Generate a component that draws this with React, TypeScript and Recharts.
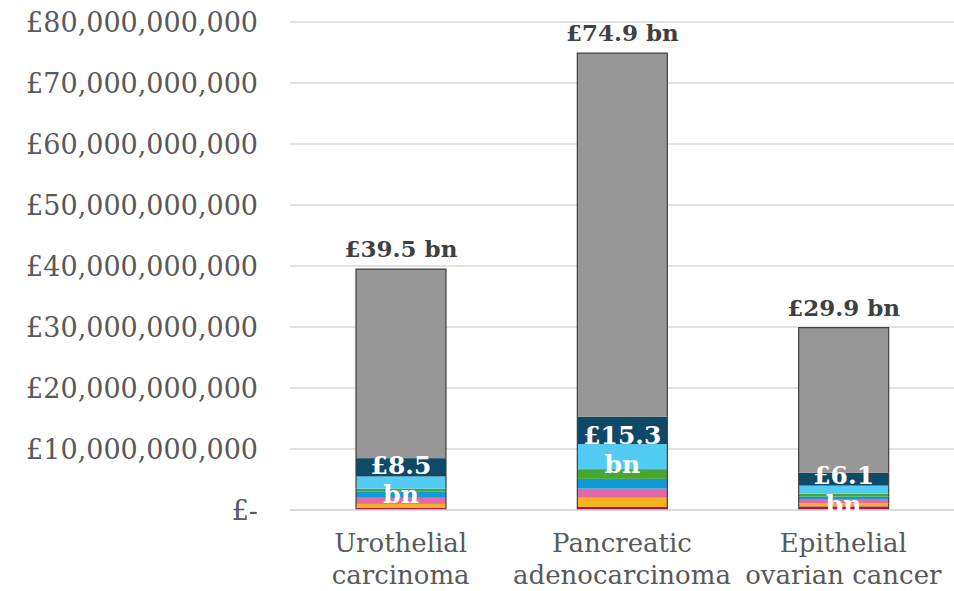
import { BarChart, Bar, XAxis, YAxis, CartesianGrid, LabelList } from 'recharts'

const FONT = '"DejaVu Serif", Georgia, serif'
const AXIS_TEXT = '#595959'
const GRID_COLOR = '#d9d9d9'
const OUTLINE = '#404040'

// values in £ billions
const categories = ['Urothelial\ncarcinoma', 'Pancreatic\nadenocarcinoma', 'Epithelial\novarian cancer']
const magenta   = [0.4, 0.5, 0.6]
const yellow    = [0.6, 1.5, 0.5]
const pink      = [1.0, 1.5, 0.7]
const blue      = [1.0, 1.6, 0.4]
const green     = [0.5, 1.6, 0.5]
const lightBlue = [2.0, 4.1, 1.3]
const navy      = [3.0, 4.5, 2.1]
const grey      = [31.0, 59.6, 23.8]
const subtotals = [8.5, 15.3, 6.1]
const totals    = [39.5, 74.9, 29.9]
const yTicks    = [0, 10, 20, 30, 40, 50, 60, 70, 80]

const SERIES = [
  { key: 'magenta', color: '#a3195b' },
  { key: 'yellow', color: '#f5b21c' },
  { key: 'pink', color: '#e469a8' },
  { key: 'blue', color: '#0e9ad7' },
  { key: 'green', color: '#4aa632' },
  { key: 'lightBlue', color: '#52cbf5' },
  { key: 'navy', color: '#0e4a68' },
  { key: 'grey', color: '#979797' },
]

const data = categories.map((name, i) => ({
  name,
  magenta: magenta[i],
  yellow: yellow[i],
  pink: pink[i],
  blue: blue[i],
  green: green[i],
  lightBlue: lightBlue[i],
  navy: navy[i],
  grey: grey[i],
  subtotal: subtotals[i],
  total: totals[i],
}))

function Segment(props: any) {
  const { x, y, width, height, fill, top } = props
  if (!height) return null
  return (
    <g>
      <rect x={x} y={y} width={width} height={height} fill={fill} />
      <path
        d={top
          ? `M${x},${y + height} L${x},${y} L${x + width},${y} L${x + width},${y + height}`
          : `M${x},${y} L${x},${y + height} M${x + width},${y} L${x + width},${y + height}`}
        stroke={OUTLINE} strokeWidth={1.2} fill="none"
      />
    </g>
  )
}

function XTick(props: any) {
  const { x = 0, y = 0, payload } = props
  const lines = String(payload?.value ?? '').split('\n')
  return (
    <text x={x} y={y} textAnchor="middle" fontSize={26} fontFamily={FONT} fill={AXIS_TEXT}>
      {lines.map((l, i) => (
        <tspan key={i} x={x} dy={i === 0 ? 34 : 32}>{l}</tspan>
      ))}
    </text>
  )
}

function SubLabel(props: any) {
  const { x, y, width, height, index } = props
  const scale = height / navy[index]
  const cy = y + (navy[index] + lightBlue[index]) * scale * 0.5 + 7
  const cx = x + width / 2
  return (
    <text textAnchor="middle" fontSize={25} fontWeight={700} fontFamily={FONT} fill="#ffffff">
      <tspan x={cx} y={cy - 6}>£{subtotals[index]}</tspan>
      <tspan x={cx} y={cy + 23}>bn</tspan>
    </text>
  )
}

function TotalLabel(props: any) {
  const { x, y, width, index } = props
  return (
    <text x={x + width / 2} y={y - 12} textAnchor="middle" fontSize={23} fontWeight={700}
      fontFamily={FONT} fill={OUTLINE}>
      £{totals[index]} bn
    </text>
  )
}

const formatY = (v: number) => v === 0 ? '£-' : '£' + (v * 1e9).toLocaleString('en-GB')

export default function App() {
  return (
    <div style={{ position: 'absolute', left: 0, top: 0, background: '#fff' }}>
      <BarChart width={954} height={591} data={data}
        margin={{ top: 22, right: 0, left: 0, bottom: 0 }} barSize={90}>
        <CartesianGrid stroke={GRID_COLOR} vertical={false} strokeWidth={1.5} />
        <XAxis dataKey="name" height={81} tickLine={false} axisLine={{ stroke: GRID_COLOR, strokeWidth: 1.5 }}
          tick={<XTick />} interval={0} />
        <YAxis domain={[0, 80]} ticks={yTicks} tickFormatter={formatY} width={290}
          axisLine={false} tickLine={false} tickSize={0} tickMargin={32}
          tick={{ fill: AXIS_TEXT, fontSize: 27, fontFamily: FONT }} />
        {SERIES.map(s => (
          <Bar key={s.key} dataKey={s.key} stackId="a" fill={s.color} isAnimationActive={false}
            shape={<Segment top={s.key === 'grey'} />}>
            {s.key === 'navy' && <LabelList dataKey="subtotal" content={<SubLabel />} />}
            {s.key === 'grey' && <LabelList dataKey="total" content={<TotalLabel />} />}
          </Bar>
        ))}
      </BarChart>
    </div>
  )
}
